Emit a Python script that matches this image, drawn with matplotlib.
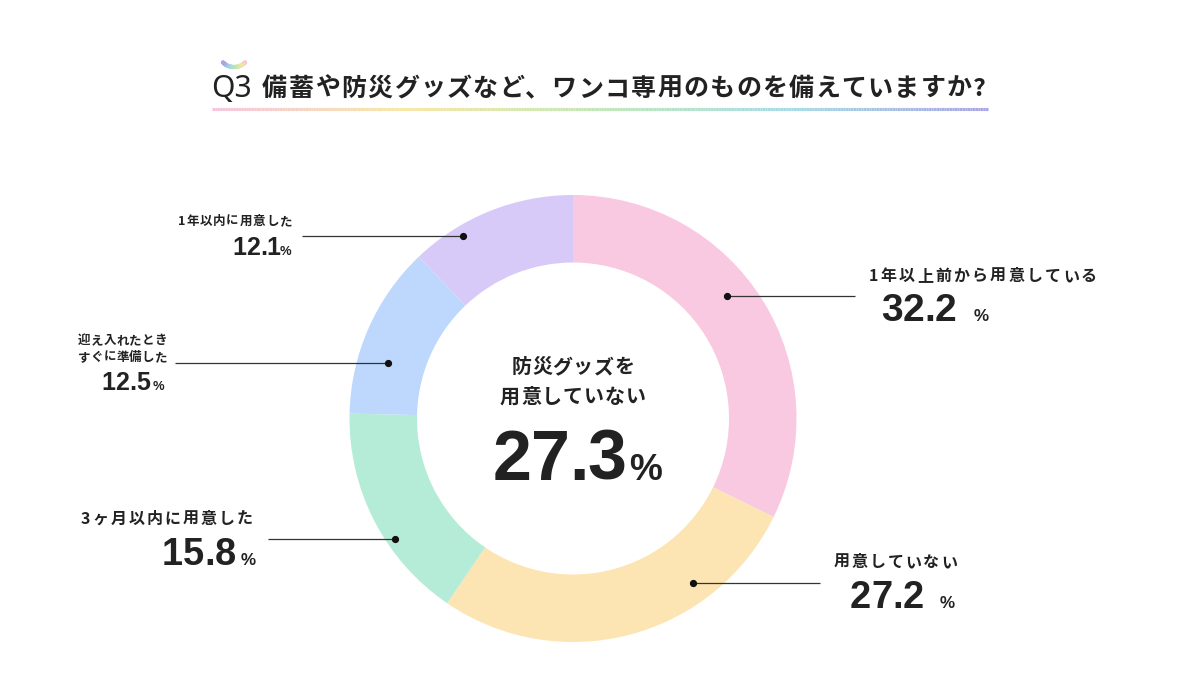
"""Q3 donut: 備蓄や防災グッズなど、ワンコ専用のものを備えていますか?"""
import numpy as np
import matplotlib; matplotlib.use("Agg")
import matplotlib.pyplot as plt
from matplotlib.collections import LineCollection
from matplotlib.colors import LinearSegmentedColormap

JP = ["Noto Sans CJK JP", "DejaVu Sans"]
NUM = ["Liberation Sans", "DejaVu Sans"]
INK, LINE = "#222222", "#333333"

# ── data ──
title = "備蓄や防災グッズなど、ワンコ専用のものを備えていますか?"
labels = ["1年以上前から用意している", "用意していない", "3ヶ月以内に用意した",
          "迎え入れたとき\nすぐに準備した", "1年以内に用意した"]
values = [32.2, 27.2, 15.8, 12.5, 12.1]
colors = ["#F9C8E1", "#FDE4B3", "#B5ECD8", "#BDD8FC", "#D8CAF8"]
center_label = ["防災グッズを", "用意していない"]
center_value = 27.3

fig = plt.figure(figsize=(12, 6.8), dpi=100)
fig.patch.set_facecolor("white")
ax = fig.add_axes([0, 0, 1, 1])
R = fig.canvas.get_renderer()


def tracked(x, y, s, px, ha="left", span=None, track=0.0, family=JP, weight="bold", color=INK):
    """draw s char by char (pixel coords, baseline y) so letter spacing can be set"""
    ts, ws = [], []
    for ch in s:
        t = ax.text(0, y, ch, fontsize=px * 0.72, family=family, fontweight=weight,
                    color=color, ha="left", va="baseline")
        ts.append(t); ws.append(t.get_window_extent(R).width)
    if span is not None and len(s) > 1:
        track = (span - sum(ws)) / (len(s) - 1)
    total = sum(ws) + track * (len(s) - 1)
    x0 = {"left": x, "right": x - total, "center": x - total / 2}[ha]
    for t, w in zip(ts, ws):
        t.set_x(x0); x0 += w + track
    return total


# ── donut ──
cx, cy, r_out, r_in = 573, 418.5, 223.5, 156
ax.pie(values, colors=colors, startangle=-90, counterclock=True, center=(cx, cy),
       radius=r_out, wedgeprops=dict(width=r_out - r_in, linewidth=0))
ax.set_xlim(0, 1200); ax.set_ylim(680, 0); ax.set_aspect("auto"); ax.axis("off")

# ── title ──
ax.text(211, 97, "Q3", fontsize=30 * 0.72, family=["Noto Sans", "DejaVu Sans"],
        fontweight="light", color=INK, ha="left", va="baseline")
tracked(262, 96, title, 25, span=724)
rainbow = LinearSegmentedColormap.from_list("rb", ["#F6C2DA", "#F7E6A0", "#BDE7B4", "#A3DAE6", "#A8A6E4"])
xs = np.linspace(212, 988, 300)
pts = np.array([xs, np.full_like(xs, 109)]).T.reshape(-1, 1, 2)
lc = LineCollection(np.concatenate([pts[:-1], pts[1:]], axis=1), colors=rainbow(np.linspace(0, 1, 299)), lw=2.2)
ax.add_collection(lc)
t = np.linspace(np.radians(35), np.radians(145), 60)
ax_, ay_ = 234 + 13.5 * np.cos(t), 56 + 11 * np.sin(t)
pts = np.array([ax_, ay_]).T.reshape(-1, 1, 2)
ax.add_collection(LineCollection(np.concatenate([pts[:-1], pts[1:]], axis=1),
                                 colors=rainbow(np.linspace(0, 1, 59)), lw=3.0, capstyle="round"))

# ── leaders: (dot x, dot y, line end x) ──
leaders = [(727, 296, 855), (693, 583, 820), (395, 539, 268), (388, 363, 175), (463, 236, 302)]
for dx, dy, ex in leaders:
    ax.plot([dx, ex], [dy, dy], color=LINE, lw=0.9, solid_capstyle="butt")
    ax.plot(dx, dy, "o", ms=4.2, color="#111111")

# ── labels ──
# pink (right)
tracked(869, 281, labels[0], 16, span=228)
tracked(881, 321, f"{values[0]:.1f}", 39, family=NUM)
tracked(974, 321, "%", 17, family=NUM)
# yellow (right)
tracked(834, 567, labels[1], 16, span=123)
tracked(850, 608, f"{values[1]:.1f}", 38, family=NUM)
tracked(940, 608, "%", 17, family=NUM)
# green (left)
tracked(81, 524, labels[2], 16, span=172)
tracked(162, 565, f"{values[2]:.1f}", 38, family=NUM)
tracked(241, 565, "%", 17, family=NUM)
# blue (left, two lines)
l1, l2 = labels[3].split("\n")
tracked(167, 344, l1, 12.5, ha="right", span=89)
tracked(167, 361, l2, 12.5, ha="right", span=89)
tracked(101, 390, f"{values[3]:.1f}", 25, family=NUM)
tracked(153, 390, "%", 13, family=NUM)
# purple (left)
tracked(178, 225, labels[4], 12.5, span=114)
tracked(232, 255, f"{values[4]:.1f}", 25, family=NUM)
tracked(280, 255, "%", 13, family=NUM)

# ── centre ──
tracked(cx, 373, center_label[0], 20, ha="center", span=123)
tracked(cx, 403, center_label[1], 20, ha="center", span=146)
tracked(493, 480, f"{center_value:.1f}", 70, family=NUM, track=-1)
tracked(629, 480, "%", 37, family=NUM)

fig.savefig("out.png", dpi=100, facecolor="white")
